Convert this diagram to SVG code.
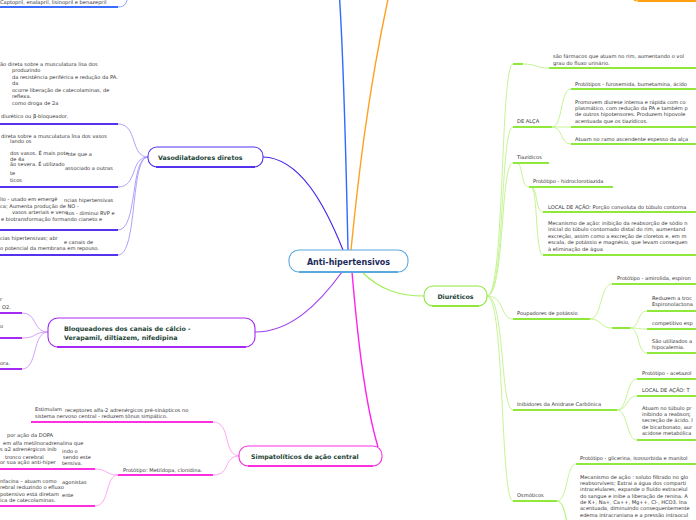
<svg xmlns="http://www.w3.org/2000/svg" width="696" height="520" viewBox="0 0 696 520">
<style>
.t{font-family:"DejaVu Sans",Verdana,sans-serif;font-size:5.1px;fill:#333}
.n{font-family:"DejaVu Sans",Verdana,sans-serif;font-size:6.3px;font-weight:bold;fill:#1d4436}
.c{font-family:"DejaVu Sans",Verdana,sans-serif;font-size:8px;font-weight:bold;fill:#1c2b5a}
.u{fill:none;stroke-width:2}
.k{fill:none;stroke-width:0.9}
.box{fill:#fff;stroke-width:1.1}
.bl .u{stroke:#3a6cff}.bl .k{stroke:#7f9fff}
.vi .u{stroke:#5533ee}.vi .k{stroke:#a597f7}
.pu .u{stroke:#a52af2}.pu .k{stroke:#cf9af7}
.ma .u{stroke:#ff2ee0}.ma .k{stroke:#ff9cef}
.gr .u{stroke:#8fe83a}.gr .k{stroke:#bff28a}
</style>
<rect width="696" height="520" fill="#fff"/>
<g id="connectors" fill="none">
<path d="M348,250 C346,160 344,60 339,-10" stroke="#2f6bff" stroke-width="1.4"/>
<path d="M351,250 C358,180 368,90 390,-10" stroke="#ffa020" stroke-width="1.4"/>
<path d="M343,250 C325,205 300,158 263,157" stroke="#4a22e8" stroke-width="1.2"/>
<path d="M342,272 C318,305 290,332 255,332" stroke="#a040f0" stroke-width="1.2"/>
<path d="M352,272 C357,330 364,400 378,447" stroke="#ff22ee" stroke-width="1.4"/>
<path d="M362,272 C380,290 400,296 424,296" stroke="#a3ef5a" stroke-width="1.2"/>
<g class="bl"><path class="k" d="M118,7 C126,7 128,2 128,-10"/></g>
<g class="vi">
<path class="k" d="M118,124 C138,124 130,157 148,157"/>
<path class="k" d="M118,187 C138,187 130,157 148,157"/>
<path class="k" d="M118,230 C138,230 130,157 148,157"/>
<path class="k" d="M118,255 C138,255 130,157 148,157"/>
</g>
<g class="pu">
<path class="k" d="M22,313 C38,313 32,332 48,332"/>
<path class="k" d="M22,338 C38,338 32,332 48,332"/>
<path class="k" d="M22,369 C38,369 32,332 48,332"/>
</g>
<g class="ma">
<path class="k" d="M213,422 C232,422 222,456 240,456"/>
<path class="k" d="M213,475 C232,475 222,456 240,456"/>
<path class="k" d="M95,469 C108,469 105,475 118,475"/>
<path class="k" d="M95,506 C110,506 105,475 118,475"/>
</g>
<g class="gr">
<path class="k" d="M487,296 C505,296 500,64 513,64"/>
<path class="k" d="M487,296 C505,296 500,127 513,127"/>
<path class="k" d="M487,296 C505,296 500,163 513,163"/>
<path class="k" d="M487,296 C505,296 500,319 513,319"/>
<path class="k" d="M487,296 C505,296 500,410 513,410"/>
<path class="k" d="M487,296 C505,296 500,501 513,501"/>
<path class="k" d="M523,64 C537,64 535,68 549,68"/>
<path class="k" d="M552,127 C563,127 560,89 571,89"/>
<path class="k" d="M552,127 C563,127 560,127 571,127"/>
<path class="k" d="M552,127 C563,127 560,144 571,144"/>
<path class="k" d="M516,163 C524,163 520,187 529,187"/>
<path class="k" d="M531,187 C538,187 535,212 543,212"/>
<path class="k" d="M531,187 C538,187 535,255 543,255"/>
<path class="k" d="M590,319 C602,319 600,284 612,284"/>
<path class="k" d="M590,319 C602,319 600,328 612,328"/>
<path class="k" d="M630,328 C640,328 637,311 647,311"/>
<path class="k" d="M630,328 C640,328 637,329 647,329"/>
<path class="k" d="M630,328 C640,328 637,353 647,353"/>
<path class="k" d="M617,410 C628,410 626,379 637,379"/>
<path class="k" d="M617,410 C628,410 626,396 637,396"/>
<path class="k" d="M617,410 C628,410 626,440 637,440"/>
<path class="k" d="M557,501 C568,501 566,464 576,464"/>
<path class="k" d="M557,501 C568,501 566,540 576,540"/>
<path class="k" d="M557,501 C570,501 568,570 578,570"/>
</g>
</g>

<g id="center">
<rect class="box" x="289" y="250" width="119" height="22" rx="10" stroke="#5aa8dd"/>
<path d="M299,272 H398" stroke="#5aa8dd" stroke-width="2"/>
<text class="c" x="348.5" y="264.8" text-anchor="middle">Anti-hipertensivos</text>
</g>

<g id="orange-node">
<rect class="box" x="630" y="-25" width="90" height="26" rx="8" stroke="#ffa010"/>
<path d="M638,1 H700" stroke="#ffa010" stroke-width="2"/>
</g>

<g id="ieca-leaf" class="bl">
<text class="t" x="0" y="4">Captopril, enalapril, lisinopril e benazepril</text>
<path class="u" d="M0,7 H118"/>
</g>

<g id="vasodilatadores">
<rect class="box" x="148" y="147" width="115" height="20" rx="9" stroke="#5533ee"/>
<path d="M156,167 H255" stroke="#5533ee" stroke-width="2"/>
<text class="n" x="158" y="159.5">Vasodilatadores diretos</text>
</g>
<g id="vaso-leaf1" class="vi">
<text class="t" x="0" y="66">ão direta sobre a musculatura lisa dos</text>
<text class="t" x="12" y="72">produzindo</text>
<text class="t" x="12" y="79">da resistência periférica e redução da PA.</text>
<text class="t" x="12" y="85">da</text>
<text class="t" x="12" y="92">ocorre liberação de catecolaminas, de</text>
<text class="t" x="12" y="98">reflexa.</text>
<text class="t" x="12" y="105">como droga de 2a</text>
<text class="t" x="1" y="118">diurético ou β-bloqueador.</text>
<path class="u" d="M0,124 H118"/>
</g>
<g id="vaso-leaf2" class="vi">
<text class="t" x="1" y="137.5">direta sobre a musculatura lisa dos vasos</text>
<text class="t" x="10" y="142.5">lando os</text>
<text class="t" x="10" y="155">dos vasos. É mais pote</text>
<text class="t" x="67.5" y="156">nte que a</text>
<text class="t" x="10" y="161">de 4a</text>
<text class="t" x="10" y="166">ão severa. É utilizado</text>
<text class="t" x="65" y="170">associado a outras</text>
<text class="t" x="10" y="175">te</text>
<text class="t" x="10" y="182">ticos</text>
<path class="u" d="M0,187 H118"/>
</g>
<g id="vaso-leaf3" class="vi">
<text class="t" x="0" y="201">lio - usado em emergê</text>
<text class="t" x="64" y="202">ncias hipertensivas</text>
<text class="t" x="0" y="208">ca; Aumenta produção de NO -</text>
<text class="t" x="12" y="214">vasos arteriais e veno</text>
<text class="t" x="66" y="215">sos - diminui RVP e</text>
<text class="t" x="1" y="220.5">e biotransformação formando cianeto e</text>
<path class="u" d="M0,230 H118"/>
</g>
<g id="vaso-leaf4" class="vi">
<text class="t" x="0" y="240">cias hipertensivas; abr</text>
<text class="t" x="64" y="244">e canais de</text>
<text class="t" x="0" y="250">o potencial da membrana em repouso.</text>
<path class="u" d="M0,255 H118"/>
</g>

<g id="bloqueadores">
<rect class="box" x="48" y="318" width="207" height="29" rx="10" stroke="#a52af2"/>
<path d="M57,347 H246" stroke="#a52af2" stroke-width="2"/>
<text class="n" x="64" y="331">Bloqueadores dos canais de cálcio -</text>
<text class="n" x="64" y="340">Verapamil, diltiazem, nifedipina</text>
</g>
<g id="bloq-leaf1" class="pu">
<text class="t" x="0" y="301">r</text>
<text class="t" x="2" y="309">O2.</text>
<path class="u" d="M0,313 H22"/>
</g>
<g id="bloq-leaf2" class="pu">
<text class="t" x="0" y="328">o</text>
<path class="u" d="M0,338 H22"/>
</g>
<g id="bloq-leaf3" class="pu">
<text class="t" x="0" y="365">ora.</text>
<path class="u" d="M0,369 H22"/>
</g>

<g id="simpatoliticos">
<rect class="box" x="239" y="446" width="143" height="20" rx="9" stroke="#ff2ee0"/>
<path d="M248,466 H373" stroke="#ff2ee0" stroke-width="2"/>
<text class="n" x="251" y="458.5">Simpatolíticos de ação central</text>
</g>
<g id="simp-leaf1" class="ma">
<text class="t" x="35" y="411">Estimulam</text>
<text class="t" x="65" y="412">receptores alfa-2 adrenérgicos pré-sinápticos no</text>
<text class="t" x="35" y="418">sistema nervoso central - reduzem tônus simpático.</text>
<path class="u" d="M31,422 H213"/>
</g>
<g id="simp-prototipo" class="ma">
<text class="t" x="123" y="472">Protótipo: Metildopa, clonidina.</text>
<path class="u" d="M118,475 H213"/>
</g>
<g id="simp-leaf2" class="ma">
<text class="t" x="7" y="437">por ação da DOPA</text>
<text class="t" x="3" y="445">em alfa metilnoradrenalina que</text>
<text class="t" x="0" y="451">s α2 adrenérgicos inib</text>
<text class="t" x="62" y="453">indo o</text>
<text class="t" x="5" y="459">tronco cerebral</text>
<text class="t" x="63" y="459">sendo este</text>
<text class="t" x="0" y="464">or sua ação anti-hiper</text>
<text class="t" x="62" y="465">tensiva.</text>
<path class="u" d="M0,469 H95"/>
</g>
<g id="simp-leaf3" class="ma">
<text class="t" x="0" y="483">nfacina – atuam como</text>
<text class="t" x="62" y="484">agonistas</text>
<text class="t" x="0" y="489">rebral reduzindo o efluxo</text>
<text class="t" x="0" y="496">potensivo está diretam</text>
<text class="t" x="62" y="497">ente</text>
<text class="t" x="0" y="502">ica de catecolaminas.</text>
<path class="u" d="M0,506 H95"/>
</g>

<g id="diureticos">
<rect class="box" x="424" y="286" width="63" height="20" rx="9" stroke="#8fe83a"/>
<path d="M432,306 H479" stroke="#8fe83a" stroke-width="2"/>
<text class="n" x="455.5" y="298.5" text-anchor="middle">Diuréticos</text>
</g>
<g id="diur-def" class="gr">
<path class="u" d="M513,64 H523"/>
<text class="t" x="553" y="58">são fármacos que atuam no rim, aumentando o vol</text>
<text class="t" x="553" y="65">grau do fluxo urinário.</text>
<path class="u" d="M549,68 H700"/>
</g>
<g id="de-alca" class="gr">
<text class="t" x="517" y="123">DE ALÇA</text>
<path class="u" d="M513,127 H552"/>
<text class="t" x="575" y="86">Protótipos - furosemida, bumetamina, ácido</text>
<path class="u" d="M571,89 H700"/>
<text class="t" x="575" y="104">Promovem diurese intensa e rápida com co</text>
<text class="t" x="575" y="110">plasmático, com redução da PA e também p</text>
<text class="t" x="575" y="116">de outros hipotensores. Produzem hipovole</text>
<text class="t" x="575" y="123">acentuada que os tiazídicos.</text>
<path class="u" d="M571,127 H700"/>
<text class="t" x="575" y="141">Atuam no ramo ascendente espesso da alça</text>
<path class="u" d="M571,144 H700"/>
</g>
<g id="tiazidicos" class="gr">
<text class="t" x="517" y="159">Tiazídicos</text>
<path class="u" d="M513,163 H549"/>
<text class="t" x="533" y="183">Protótipo - hidroclorotiazida</text>
<path class="u" d="M529,187 H613"/>
<text class="t" x="548" y="209">LOCAL DE AÇÃO: Porção convoluta do túbulo contorna</text>
<path class="u" d="M543,212 H700"/>
<text class="t" x="548" y="225">Mecanismo de ação: inibição da reabsorção de sódio n</text>
<text class="t" x="548" y="231">inicial do túbulo contornado distal do rim, aumentand</text>
<text class="t" x="548" y="238">excreção, assim como a excreção de cloretos e, em m</text>
<text class="t" x="548" y="244">escala, de potássio e magnésio, que levam consequen</text>
<text class="t" x="548" y="251">à eliminação de água</text>
<path class="u" d="M543,255 H700"/>
</g>
<g id="poupadores" class="gr">
<text class="t" x="517" y="315">Poupadores de potássio</text>
<path class="u" d="M513,319 H590"/>
<text class="t" x="617" y="280">Protótipo - amirolida, espiron</text>
<path class="u" d="M612,284 H700"/>
<path class="u" d="M612,328 H630"/>
<text class="t" x="652" y="300">Reduzem a troc</text>
<text class="t" x="652" y="306">Espironolactona</text>
<path class="u" d="M647,311 H700"/>
<text class="t" x="652" y="325">competitivo esp</text>
<path class="u" d="M647,329 H700"/>
<text class="t" x="652" y="343">São utilizados a</text>
<text class="t" x="652" y="349">hipocalemia.</text>
<path class="u" d="M647,353 H700"/>
</g>
<g id="inibidores" class="gr">
<text class="t" x="517" y="406">Inibidores da Anidrase Carbônica</text>
<path class="u" d="M513,410 H617"/>
<text class="t" x="642" y="375">Protótipo - acetazol</text>
<path class="u" d="M637,379 H700"/>
<text class="t" x="642" y="392">LOCAL DE AÇÃO: T</text>
<path class="u" d="M637,396 H700"/>
<text class="t" x="642" y="410">Atuam no túbulo pr</text>
<text class="t" x="642" y="416">inibindo a reabsorç</text>
<text class="t" x="642" y="422">secreção de ácido. I</text>
<text class="t" x="642" y="429">de bicarbonato, aur</text>
<text class="t" x="642" y="435">acidose metabólica</text>
<path class="u" d="M637,440 H700"/>
</g>
<g id="osmoticos" class="gr">
<text class="t" x="517" y="497">Osmóticos</text>
<path class="u" d="M513,501 H557"/>
<text class="t" x="580" y="460">Protótipo - glicerina, isossorbida e manitol</text>
<path class="u" d="M576,464 H700"/>
<text class="t" x="580" y="479">Mecanismo de ação : soluto filtrado no glo</text>
<text class="t" x="580" y="485">reabsorvíveis; Extrai a água dos comparti</text>
<text class="t" x="580" y="491">intracelulares, expande o fluído extracelul</text>
<text class="t" x="580" y="498">do sangue e inibe a liberação de renina. A</text>
<text class="t" x="580" y="504">de K+, Na+, Ca++, Mg++, Cl-, HCO3. Ina</text>
<text class="t" x="580" y="510">acentuada, diminuindo consequentemente</text>
<text class="t" x="580" y="517">edema intracraniana e a pressão intraocul</text>
</g>
</svg>
